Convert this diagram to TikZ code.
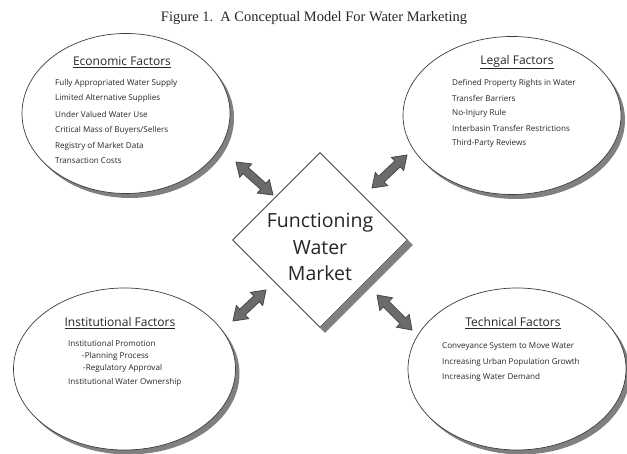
\documentclass[tikz,border=0pt]{standalone}
\usepackage{fontspec}
\setmainfont{Liberation Serif}
\newfontfamily\handfont{Open Sans}
\usetikzlibrary{shapes.geometric,calc}
\definecolor{ink}{gray}{0.15}
\definecolor{bandgray}{gray}{0.5}
\definecolor{arrowgray}{gray}{0.42}
\tikzset{
  factorbox/.style={ellipse, draw=ink!90, line width=0.7pt, fill=white, inner sep=0pt},
  bandshade/.style={fill=bandgray},
  marketbox/.style={diamond, draw=ink, line width=0.7pt, fill=white, inner sep=0pt, aspect=1,
    minimum width=175pt, minimum height=175pt},
  headtxt/.style={font=\fontsize{12}{14}\handfont, text=ink, inner sep=0pt, anchor=center},
  itemtxt/.style={font=\fontsize{8.1}{10}\handfont, text=ink, inner sep=0pt, anchor=west},
  bigtxt/.style={font=\fontsize{19.5}{26.5}\handfont, text=ink, inner sep=0pt, align=center},
  fatarrow/.style={fill=arrowgray, draw=ink!85, line width=0.8pt, line join=miter,
    to path={
      -- ($(\tikztostart)!13pt!(\tikztotarget)!9pt!90:(\tikztotarget)$)
      -- ($(\tikztostart)!13pt!(\tikztotarget)!4pt!90:(\tikztotarget)$)
      -- ($(\tikztotarget)!13pt!(\tikztostart)!4pt!-90:(\tikztostart)$)
      -- ($(\tikztotarget)!13pt!(\tikztostart)!9pt!-90:(\tikztostart)$)
      -- (\tikztotarget)
      -- ($(\tikztotarget)!13pt!(\tikztostart)!9pt!90:(\tikztostart)$)
      -- ($(\tikztotarget)!13pt!(\tikztostart)!4pt!90:(\tikztostart)$)
      -- ($(\tikztostart)!13pt!(\tikztotarget)!4pt!-90:(\tikztotarget)$)
      -- ($(\tikztostart)!13pt!(\tikztotarget)!9pt!-90:(\tikztotarget)$)
      -- cycle}}
}
\begin{document}
\begin{tikzpicture}[x=1pt,y=-1pt]
\fill[white] (0,0) rectangle (627,454);
\useasboundingbox (0,0) rectangle (627,454);

% title
\node[inner sep=0pt, text=ink] (title) at (314,18)
  {\resizebox{306pt}{!}{Figure 1.\ \ A Conceptual Model For Water Marketing}};

% shadow bands of the ellipses
\fill[bandshade] (130,118) ellipse [x radius=104, y radius=80];
\fill[bandshade] (516,120) ellipse [x radius=109, y radius=79];
\fill[bandshade] (128.5,373.5) ellipse [x radius=111, y radius=81];
\fill[bandshade] (521,373.5) ellipse [x radius=109, y radius=81];

% factor ellipses
\node[factorbox, minimum width=208pt, minimum height=160pt] (eco) at (126,113.5) {};
\node[factorbox, minimum width=218pt, minimum height=158pt] (legal) at (512,115.5) {};
\node[factorbox, minimum width=222pt, minimum height=162pt] (inst) at (124.5,369) {};
\node[factorbox, minimum width=218pt, minimum height=162pt] (tech) at (517,369) {};

% central diamond
\node[marketbox] (mkt) at (320,240) {};
\fill[bandshade] (mkt.east) -- ($(mkt.east)+(5,5)$) -- ($(mkt.south)+(5,5)$) -- (mkt.south) -- cycle;
\node[bigtxt] (mkttxt) at (320,247) {Functioning\\Water\\Market};

% arrow end points
\coordinate (e1) at (236,162);
\coordinate (m1) at (273,195);
\coordinate (l1) at (407,155);
\coordinate (m2) at (372,188);
\coordinate (i1) at (233,321);
\coordinate (m3) at (266,290);
\coordinate (t1) at (412,330);
\coordinate (m4) at (377,295);
\path[fatarrow] (e1) to (m1);
\path[fatarrow] (l1) to (m2);
\path[fatarrow] (i1) to (m3);
\path[fatarrow] (t1) to (m4);

% economic
\node[headtxt] (ecoh) at (122,62) {\underline{Economic Factors}};
\node[itemtxt] (eco1) at (55,83) {Fully Appropriated Water Supply};
\node[itemtxt] (eco2) at (55,98) {Limited Alternative Supplies};
\node[itemtxt] (eco3) at (55,114) {Under Valued Water Use};
\node[itemtxt] (eco4) at (55,130) {Critical Mass of Buyers/Sellers};
\node[itemtxt] (eco5) at (55,146) {Registry of Market Data};
\node[itemtxt] (eco6) at (55,161) {Transaction Costs};

% legal
\node[headtxt] (legalh) at (517,62) {\underline{Legal Factors}};
\node[itemtxt] (legal1) at (452,83) {Defined Property Rights in Water};
\node[itemtxt] (legal2) at (452,98) {Transfer Barriers};
\node[itemtxt] (legal3) at (452,113) {No-Injury Rule};
\node[itemtxt] (legal4) at (452,128) {Interbasin Transfer Restrictions};
\node[itemtxt] (legal5) at (452,143) {Third-Party Reviews};

% institutional
\node[headtxt] (insth) at (120,323) {\underline{Institutional Factors}};
\node[itemtxt] (inst1) at (68,343) {Institutional Promotion};
\node[itemtxt] (inst2) at (82,356) {-Planning Process};
\node[itemtxt] (inst3) at (83,368) {-Regulatory Approval};
\node[itemtxt] (inst4) at (68,382) {Institutional Water Ownership};

% technical
\node[headtxt] (techh) at (513,323) {\underline{Technical Factors}};
\node[itemtxt] (tech1) at (442,347) {Conveyance System to Move Water};
\node[itemtxt] (tech2) at (442,362) {Increasing Urban Population Growth};
\node[itemtxt] (tech3) at (442,377) {Increasing Water Demand};
\end{tikzpicture}
\end{document}
